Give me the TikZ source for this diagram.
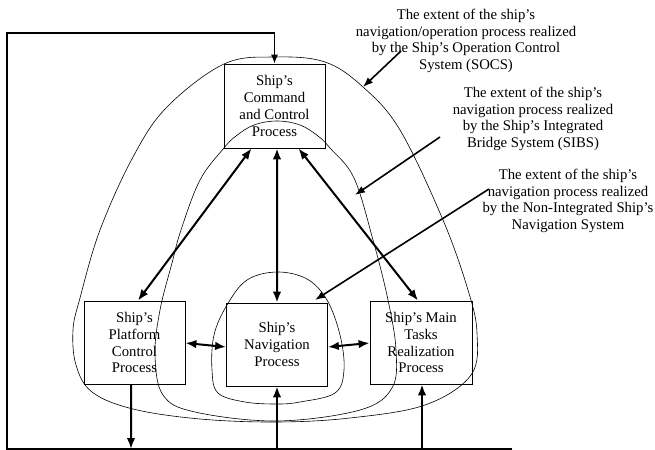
\documentclass[tikz,border=0pt]{standalone}
\usepackage{fontspec}
\setmainfont{Liberation Serif}
\usetikzlibrary{arrows.meta,calc}
\begin{document}
\begin{tikzpicture}[x=1bp,y=-1bp,
  proc/.style={draw,line width=0.8bp,minimum width=101bp,minimum height=83bp,inner sep=0pt,align=center,font=\fontsize{14.8}{17}\selectfont},
  lbl/.style={align=center,font=\fontsize{14.8}{16.8}\selectfont,inner sep=0pt},
  link/.style={line width=2bp,{Latex[length=11bp,width=8.5bp]}-{Latex[length=11bp,width=8.5bp]}},
  flow/.style={line width=2bp,-{Latex[length=11bp,width=8.5bp]}},
  loop/.style={line width=1.3bp,-{Latex[length=9bp,width=7bp]}},
  pointer/.style={line width=1.6bp,-{Latex[length=10bp,width=7.5bp]}},
  extent/.style={line width=0.6bp}]
\useasboundingbox (0,0) rectangle (655,450);

% extent curves
\draw[extent] plot[smooth cycle, tension=0.6] coordinates {
 (275,57) (325,62) (363,87) (400,130) (443,220) (468,290) (477,333) (471,375)
 (425,405) (350,418) (277,422) (200,419) (133,409) (92,392) (76,365) (73,330)
 (80,298) (100,230) (133,157) (167,107) (224,64)};
\draw[extent] plot[smooth cycle, tension=0.6] coordinates {
 (277,121) (300,125) (318,136) (330,148) (354,178) (373,240) (388,300) (396,350)
 (392,388) (360,410) (277,421) (195,412) (163,395) (155,355) (160,310) (172,263)
 (181,230) (200,180) (224,148) (236,136) (254,125)};
\draw[extent] plot[smooth cycle, tension=0.6] coordinates {
 (277,272) (307,279) (327,300) (340,335) (344,370) (335,393) (300,402) (277,404)
 (245,402) (218,393) (212,370) (214,335) (227,305) (247,280)};

% process boxes
\node[proc, minimum height=84bp] (cmd) at (274.5,106) {Ship's\\Command\\and Control\\Process};
\node[proc] (plat) at (134.5,342.5) {Ship's\\Platform\\Control\\Process};
\node[proc] (nav) at (277,344.5) {Ship's\\Navigation\\Process};
\node[proc, minimum width=102bp] (main) at (421,342.5) {Ship's Main\\Tasks\\Realization\\Process};

% labels
\node[lbl] (socs) at (466,41) {The extent of the ship's\\navigation/operation process realized\\by the Ship's Operation Control\\System (SOCS)};
\node[lbl] (sibs) at (533,119) {The extent of the ship's\\navigation process realized\\by the Ship's Integrated\\Bridge System (SIBS)};
\node[lbl] (nins) at (568,201) {The extent of the ship's\\navigation process realized\\by the Non-Integrated Ship's\\Navigation System};

% links between processes
\draw[link] ([xshift=-23bp]cmd.south) -- ([xshift=3.5bp]plat.north);
\draw[link] ([xshift=2.5bp]cmd.south) -- (nav.north);
\draw[link] ([yshift=-0.5bp]plat.east) -- ([yshift=-2.5bp]nav.west);
\draw[link] ([xshift=24bp]cmd.south) -- ([xshift=-3bp]main.north);
\draw[link] ([yshift=-2.5bp]nav.east) -- ([yshift=-0.5bp]main.west);

% bottom line and feedback loop
\coordinate (br) at (512,449);
\coordinate (bl) at (7,449);
\coordinate (tl) at (7,33);
\coordinate (pd) at (131,449);
\coordinate (nu) at (277,449);
\coordinate (mu) at (422,449);
\draw[loop] (br) -- (bl) -- (tl) -- (cmd.north |- tl) -- (cmd.north);
\draw[flow] ([xshift=-3.5bp]plat.south) -- (pd);
\draw[flow] (nu) -- (nav.south -| nu);
\draw[flow] (mu) -- (main.south -| mu);

% pointers from labels
\coordinate (p1s) at (401,51);
\coordinate (p1e) at (363,87);
\coordinate (p2s) at (440,137);
\coordinate (p2e) at (355,195);
\coordinate (p3s) at (489,189);
\coordinate (p3e) at (315,300);
\draw[pointer] (p1s) -- (p1e);
\draw[pointer] (p2s) -- (p2e);
\draw[pointer] (p3s) -- (p3e);
\end{tikzpicture}
\end{document}
